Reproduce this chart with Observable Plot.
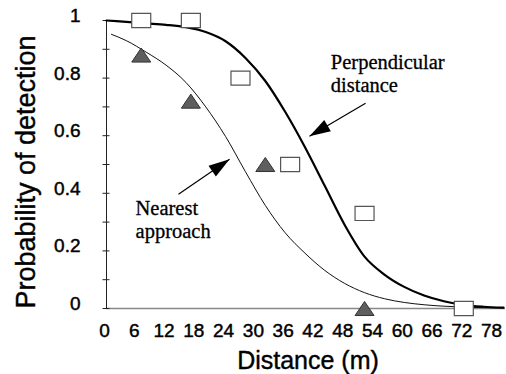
<!DOCTYPE html>
<html><head><meta charset="utf-8">
<script src="https://cdn.jsdelivr.net/npm/d3@7"></script>
<script src="https://cdn.jsdelivr.net/npm/@observablehq/plot@0.6"></script>
<style>body{margin:0;background:#fff}</style>
</head><body><div id="chart"></div>
<script>
// ---- data ----
const squareDist = [7, 17, 27, 37, 52, 72];
const squareProb = [1.0, 1.0, 0.80, 0.50, 0.33, 0.0];
const triDist = [7, 17, 32, 52];
const triProb = [0.88, 0.72, 0.50, 0.0];
const perpDist = [0,4,8,12,16,20,24,28,32,36,40,44,48,52,56,60,64,68,72,76,80];
const perpProb = [1.0,0.995,0.99,0.985,0.977,0.96,0.928,0.87,0.79,0.683,0.56,0.425,0.29,0.18,0.118,0.075,0.045,0.025,0.012,0.006,0.003];
const nearDist = [1,4,8,12,16,20,24,28,32,36,40,44,48,52,56,60,64,68,72,76,80];
const nearProb = [0.952,0.93,0.89,0.845,0.785,0.7,0.597,0.475,0.358,0.263,0.192,0.132,0.087,0.055,0.034,0.021,0.013,0.008,0.005,0.003,0.002];
const xTicks = [0,6,12,18,24,30,36,42,48,54,60,66,72,78];
const yLabelTicks = [0,0.2,0.4,0.6,0.8,1];
const yMinorTicks = [0,0.1,0.2,0.3,0.4,0.5,0.6,0.7,0.8,0.9,1];
const noteLabels = ["Perpendicular\ndistance", "Nearest\napproach"];
const noteX = [45.2, 5.85];
const noteY = [0.888, 0.383];
const arrowFromX = [52.2, 14.5];
const arrowFromY = [0.713, 0.397];
const arrowToX = [40.9, 24.8];
const arrowToY = [0.598, 0.518];

// ---- tables built from the arrays ----
const squares = squareDist.map((d, i) => ({d, p: squareProb[i]}));
const tris = triDist.map((d, i) => ({d, p: triProb[i]}));
const perp = perpDist.map((d, i) => ({d, p: perpProb[i]}));
const near = nearDist.map((d, i) => ({d, p: nearProb[i]}));
const notes = noteLabels.map((t, i) => ({t, x: noteX[i], y: noteY[i]}));
const arrows = arrowFromX.map((x1, i) => ({x1, y1: arrowFromY[i], x2: arrowToX[i], y2: arrowToY[i]}));

const W = 506, H = 374, mL = 106, mR = 3, mT = 20, mB = 66;
const kx = (W - mL - mR) / 80, ky = (H - mT - mB);
const sans = "Liberation Sans, Arial, sans-serif";
const serif = "Liberation Serif, Times New Roman, serif";

const rectSym = {draw(ctx, size) {
  const r = Math.sqrt(size / Math.PI), w = r, h = r * 0.74;
  ctx.moveTo(-w, -h); ctx.lineTo(w, -h); ctx.lineTo(w, h); ctx.lineTo(-w, h); ctx.closePath();
}};
const triSym = {draw(ctx, size) {
  const r = Math.sqrt(size / Math.PI), w = r, h = r * 0.74;
  ctx.moveTo(0, -h); ctx.lineTo(w, h); ctx.lineTo(-w, h); ctx.closePath();
}};

const plot = Plot.plot({
  width: W, height: H,
  marginLeft: mL, marginRight: mR, marginTop: mT, marginBottom: mB,
  style: {background: "#fff", fontFamily: sans, overflow: "visible"},
  x: {domain: [0, 80], axis: null},
  y: {domain: [0, 1], axis: null},
  marks: [
    Plot.ruleY([0], {stroke: "#888", strokeWidth: 1.3, insetRight: -2}),
    Plot.ruleX([0], {y1: 0, y2: 1, stroke: "#222", strokeWidth: 1}),
    Plot.axisY({ticks: yMinorTicks, tickSize: 7, dx: 3.5, tickFormat: () => "", stroke: "#222"}),
    Plot.axisY({ticks: yLabelTicks, tickSize: 0, tickPadding: 26, dy: -4.5, fontSize: 19,
      fontFamily: sans, tickFormat: d => String(d), label: null,
      textStroke: "#000", textStrokeWidth: 0.45}),
    Plot.axisX({ticks: xTicks, tickSize: 0, tickPadding: 15, dx: -2, fontSize: 19,
      fontFamily: sans, tickFormat: d => String(d), label: null,
      textStroke: "#000", textStrokeWidth: 0.45}),
    Plot.text(["Distance (m)"], {frameAnchor: "bottom", textAnchor: "middle", lineAnchor: "top",
      dy: 43, dx: 3, fontSize: 25, fontFamily: sans, fill: "#000", stroke: "#000", strokeWidth: 0.4}),
    Plot.text(["Probability of detection"], {frameAnchor: "left", textAnchor: "middle", lineAnchor: "middle",
      rotate: -90, dx: -80.5, dy: 7.5, fontSize: 27, fontFamily: sans, fill: "#000", stroke: "#000", strokeWidth: 0.4}),
    Plot.line(near, {x: "d", y: "p", curve: "monotone-x", stroke: "#111", strokeWidth: 1}),
    Plot.line(perp, {x: "d", y: "p", curve: "monotone-x", stroke: "#000", strokeWidth: 2.2}),
    Plot.link(arrows, {x1: "x1", y1: "y1", x2: "x2", y2: "y2", stroke: "#000", strokeWidth: 1.2}),
    Plot.vector(arrows, {x: "x2", y: "y2", shape: "spike", anchor: "end", length: 21, r: 6.5,
      fill: "#000", stroke: "none",
      rotate: d => Math.atan2((d.x2 - d.x1) * kx, (d.y2 - d.y1) * ky) * 180 / Math.PI}),
    Plot.text(notes, {x: "x", y: "y", text: "t", textAnchor: "start", lineAnchor: "top",
      lineHeight: 1.13, fontSize: 20.5, fontFamily: serif, fill: "#000", stroke: "#000", strokeWidth: 0.3}),
    Plot.dot(tris, {x: "d", y: "p", symbol: triSym, r: 9.5, fill: "#5e5e5e", stroke: "#333", strokeWidth: 1}),
    Plot.dot(squares, {x: "d", y: "p", symbol: rectSym, r: 9.5, fill: "#fff", stroke: "#555", strokeWidth: 1.2})
  ]
});
document.getElementById("chart").appendChild(plot);
</script>
</body></html>
